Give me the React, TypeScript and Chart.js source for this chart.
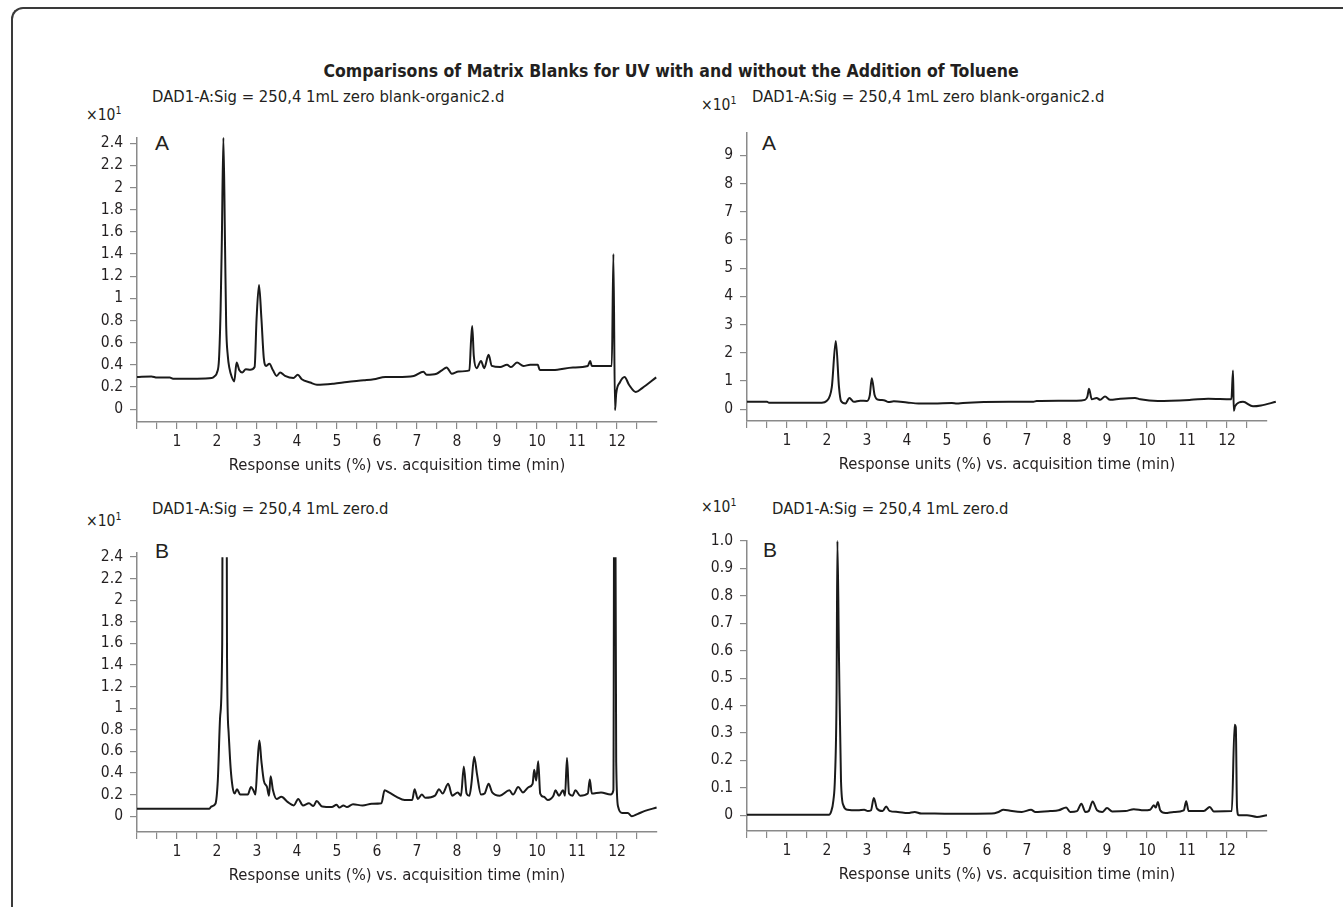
import React, { useEffect, useRef } from "react";
import { Chart, registerables } from "chart.js";

Chart.register(...registerables);

// ---------- data (time in min, response in x10 units) ----------
const timeTicks = [0, 0.5, 1, 1.5, 2, 2.5, 3, 3.5, 4, 4.5, 5, 5.5, 6, 6.5, 7, 7.5, 8, 8.5, 9, 9.5, 10, 10.5, 11, 11.5, 12, 12.5, 13];
const timeTickLabels = ["", "", "1", "", "2", "", "3", "", "4", "", "5", "", "6", "", "7", "", "8", "", "9", "", "10", "", "11", "", "12", "", ""];

const yTicksLeft = [0, 0.2, 0.4, 0.6, 0.8, 1, 1.2, 1.4, 1.6, 1.8, 2, 2.2, 2.4];
const yLabelsLeft = ["0", "0.2", "0.4", "0.6", "0.8", "1", "1.2", "1.4", "1.6", "1.8", "2", "2.2", "2.4"];
const yTicksTopRight = [0, 1, 2, 3, 4, 5, 6, 7, 8, 9];
const yLabelsTopRight = ["0", "1", "2", "3", "4", "5", "6", "7", "8", "9"];
const yTicksBottomRight = [0, 0.1, 0.2, 0.3, 0.4, 0.5, 0.6, 0.7, 0.8, 0.9, 1.0];
const yLabelsBottomRight = ["0", "0.1", "0.2", "0.3", "0.4", "0.5", "0.6", "0.7", "0.8", "0.9", "1.0"];

// Panel A (blank-organic2), left view
const traceALeft: [number, number][] = [
  [0, 0.29], [0.36, 0.295], [0.5, 0.285], [0.82, 0.285], [0.9, 0.275], [1.5, 0.275], [1.87, 0.28], [1.95, 0.3],
  [2.0, 0.33], [2.05, 0.45], [2.09, 0.9], [2.12, 1.5], [2.16, 2.45], [2.2, 1.5], [2.23, 0.75], [2.27, 0.48],
  [2.31, 0.37], [2.37, 0.29], [2.43, 0.25], [2.49, 0.42], [2.56, 0.35], [2.63, 0.33], [2.72, 0.36], [2.83, 0.355],
  [2.94, 0.38], [2.99, 0.82], [3.05, 1.12], [3.11, 0.82], [3.17, 0.46], [3.23, 0.39], [3.31, 0.41], [3.4, 0.35],
  [3.49, 0.3], [3.58, 0.33], [3.7, 0.3], [3.91, 0.28], [4.02, 0.31], [4.12, 0.27], [4.33, 0.24], [4.5, 0.22],
  [4.92, 0.23], [5.25, 0.245], [5.67, 0.26], [5.92, 0.27], [6.21, 0.29], [6.5, 0.29], [6.92, 0.3], [7.16, 0.338],
  [7.24, 0.31], [7.49, 0.32], [7.62, 0.35], [7.74, 0.376], [7.87, 0.32], [8.04, 0.34], [8.31, 0.35], [8.35, 0.61],
  [8.38, 0.75], [8.42, 0.48], [8.49, 0.37], [8.6, 0.435], [8.68, 0.37], [8.79, 0.49], [8.87, 0.39], [9.08, 0.38],
  [9.25, 0.4], [9.35, 0.38], [9.5, 0.42], [9.66, 0.39], [9.83, 0.4], [10.02, 0.4], [10.07, 0.353], [10.4, 0.353],
  [10.9, 0.376], [11.27, 0.39], [11.33, 0.435], [11.37, 0.39], [11.87, 0.39], [11.91, 1.4], [11.95, -0.01],
  [11.98, 0.14], [12.07, 0.24], [12.19, 0.29], [12.3, 0.22], [12.47, 0.154], [12.63, 0.19], [12.98, 0.287],
];

// Panel A (blank-organic2), right view (full scale)
const traceARight: [number, number][] = [
  [0, 0.26], [0.5, 0.26], [0.55, 0.23], [1.87, 0.23], [1.99, 0.29], [2.12, 0.78], [2.22, 2.42], [2.3, 0.78],
  [2.35, 0.29], [2.46, 0.2], [2.56, 0.4], [2.67, 0.26], [2.83, 0.3], [3.0, 0.29], [3.07, 0.5], [3.12, 1.1],
  [3.19, 0.5], [3.29, 0.33], [3.42, 0.32], [3.54, 0.25], [3.67, 0.28], [4.0, 0.24], [4.29, 0.2], [4.67, 0.2],
  [5.12, 0.22], [5.25, 0.2], [5.4, 0.22], [6.54, 0.26], [7.16, 0.26], [7.24, 0.29], [7.78, 0.3], [8.24, 0.3],
  [8.45, 0.33], [8.51, 0.45], [8.55, 0.72], [8.62, 0.35], [8.74, 0.4], [8.83, 0.33], [8.95, 0.45], [9.08, 0.33],
  [9.33, 0.37], [9.7, 0.4], [9.83, 0.35], [10.27, 0.29], [11.1, 0.33], [11.53, 0.37], [12.11, 0.35], [12.15, 1.37],
  [12.17, -0.06], [12.2, 0.1], [12.4, 0.26], [12.65, 0.1], [12.85, 0.13], [13.22, 0.26],
];

// Panel B (zero), left view (off-scale peaks estimated above 2.4)
const traceBLeft: [number, number][] = [
  [0, 0.07], [1.81, 0.07], [1.86, 0.09], [1.96, 0.115], [2.02, 0.33], [2.08, 0.93], [2.13, 1.6], [2.15, 5.0],
  [2.23, 5.0], [2.25, 1.5], [2.29, 0.78], [2.34, 0.45], [2.39, 0.27], [2.44, 0.21], [2.5, 0.25], [2.58, 0.2],
  [2.77, 0.2], [2.85, 0.27], [2.91, 0.24], [2.96, 0.2], [3.01, 0.48], [3.06, 0.7], [3.11, 0.51], [3.17, 0.33],
  [3.25, 0.27], [3.3, 0.19], [3.34, 0.37], [3.4, 0.24], [3.49, 0.16], [3.61, 0.18], [3.77, 0.13], [3.92, 0.1],
  [4.03, 0.16], [4.15, 0.1], [4.3, 0.12], [4.41, 0.094], [4.49, 0.14], [4.63, 0.09], [4.87, 0.085], [4.99, 0.106],
  [5.06, 0.08], [5.16, 0.1], [5.25, 0.085], [5.4, 0.11], [5.64, 0.1], [5.87, 0.115], [6.11, 0.12], [6.19, 0.24],
  [6.3, 0.22], [6.49, 0.18], [6.69, 0.15], [6.88, 0.15], [6.94, 0.25], [7.02, 0.16], [7.12, 0.2], [7.21, 0.17],
  [7.45, 0.19], [7.55, 0.25], [7.64, 0.21], [7.78, 0.3], [7.88, 0.19], [8.02, 0.22], [8.1, 0.19], [8.17, 0.46],
  [8.24, 0.21], [8.31, 0.19], [8.36, 0.3], [8.43, 0.55], [8.5, 0.39], [8.6, 0.2], [8.69, 0.21], [8.79, 0.3],
  [8.88, 0.22], [9.07, 0.19], [9.31, 0.24], [9.4, 0.2], [9.53, 0.27], [9.65, 0.22], [9.79, 0.27], [9.89, 0.3],
  [9.93, 0.43], [9.98, 0.33], [10.03, 0.51], [10.08, 0.21], [10.17, 0.18], [10.27, 0.15], [10.41, 0.19],
  [10.46, 0.24], [10.55, 0.19], [10.65, 0.24], [10.7, 0.19], [10.75, 0.54], [10.8, 0.21], [10.89, 0.19],
  [10.96, 0.24], [11.08, 0.19], [11.27, 0.21], [11.32, 0.34], [11.37, 0.21], [11.6, 0.22], [11.84, 0.2],
  [11.91, 0.24], [11.94, 5.0], [11.98, 0.5], [12.03, 0.085], [12.13, 0.03], [12.27, 0.03], [12.37, 0.0],
  [12.51, 0.02], [12.7, 0.05], [12.99, 0.08],
];

// Panel B (zero), right view
const traceBRight: [number, number][] = [
  [0, 0.002], [2.05, 0.002], [2.1, 0.012], [2.16, 0.054], [2.2, 0.14], [2.24, 0.45], [2.26, 1.0], [2.3, 0.57],
  [2.35, 0.126], [2.41, 0.036], [2.51, 0.02], [2.77, 0.018], [2.93, 0.02], [3.02, 0.015], [3.1, 0.018],
  [3.17, 0.063], [3.25, 0.024], [3.39, 0.015], [3.48, 0.032], [3.56, 0.016], [3.77, 0.012], [4.02, 0.008],
  [4.19, 0.012], [4.36, 0.006], [4.69, 0.006], [5.2, 0.005], [6.12, 0.006], [6.29, 0.012], [6.41, 0.02],
  [6.58, 0.016], [6.87, 0.012], [7.1, 0.02], [7.21, 0.012], [7.58, 0.015], [7.79, 0.018], [7.98, 0.028],
  [8.08, 0.012], [8.25, 0.015], [8.36, 0.042], [8.46, 0.012], [8.54, 0.015], [8.64, 0.05], [8.75, 0.018],
  [8.88, 0.012], [9.0, 0.026], [9.13, 0.014], [9.46, 0.015], [9.67, 0.022], [9.92, 0.018], [10.08, 0.02],
  [10.17, 0.036], [10.22, 0.028], [10.27, 0.048], [10.33, 0.018], [10.46, 0.008], [10.67, 0.012], [10.92, 0.018],
  [10.98, 0.051], [11.04, 0.015], [11.25, 0.015], [11.42, 0.015], [11.57, 0.03], [11.67, 0.014], [12.12, 0.015],
  [12.19, 0.33], [12.22, 0.32], [12.25, 0.03], [12.29, 0.0], [12.5, 0.0], [12.75, -0.006], [13.0, 0.0], [13.29, 0.004],
];

// ---------- style ----------
const FONT = "'DejaVu Sans Condensed', 'Liberation Sans Narrow', 'Arial Narrow', sans-serif";
const TEXT = "#231f20";
const AXIS = "#8a8a8a";
const TRACE = "#1a1a1a";
const Y_W = 80;
const PAD_TOP = 12;
const PAD_RIGHT = 30;
const X_H = 56;

type Panel = {
  key: string;
  area: { left: number; right: number; top: number; bottom: number };
  yMin: number;
  yMax: number;
  yTicks: number[];
  yLabels: string[];
  trace: [number, number][];
  clipTop: number;
};

const panels: Panel[] = [
  { key: "tl", area: { left: 137, right: 657, top: 133, bottom: 422 }, yMin: -0.116, yMax: 2.453, yTicks: yTicksLeft, yLabels: yLabelsLeft, trace: traceALeft, clipTop: 4 },
  { key: "tr", area: { left: 747, right: 1267, top: 128, bottom: 421 }, yMin: -0.42, yMax: 9.82, yTicks: yTicksTopRight, yLabels: yLabelsTopRight, trace: traceARight, clipTop: 4 },
  { key: "bl", area: { left: 137, right: 657, top: 548, bottom: 832 }, yMin: -0.146, yMax: 2.443, yTicks: yTicksLeft, yLabels: yLabelsLeft, trace: traceBLeft, clipTop: -5 },
  { key: "br", area: { left: 747, right: 1267, top: 536, bottom: 831 }, yMin: -0.0575, yMax: 1.0025, yTicks: yTicksBottomRight, yLabels: yLabelsBottomRight, trace: traceBRight, clipTop: 4 },
];

function ChartPanel({ p }: { p: Panel }) {
  const ref = useRef<HTMLCanvasElement | null>(null);
  const width = Y_W + (p.area.right - p.area.left) + PAD_RIGHT;
  const height = PAD_TOP + (p.area.bottom - p.area.top) + X_H;
  useEffect(() => {
    if (!ref.current) return;
    const chart = new Chart(ref.current, {
      type: "line",
      data: {
        datasets: [
          {
            data: p.trace.map(([t, v]) => ({ x: t, y: v })),
            borderColor: TRACE,
            borderWidth: 2,
            pointRadius: 0,
            cubicInterpolationMode: "monotone",
            clip: { left: 2, right: 20, top: p.clipTop, bottom: 10 } as any,
          },
        ],
      },
      options: {
        animation: false,
        responsive: false,
        maintainAspectRatio: false,
        devicePixelRatio: 1,
        layout: { padding: { top: PAD_TOP, right: PAD_RIGHT, left: 0, bottom: 0 } },
        plugins: { legend: { display: false }, tooltip: { enabled: false }, title: { display: false } },
        scales: {
          x: {
            type: "linear",
            min: 0,
            max: 13,
            afterBuildTicks: (s: any) => {
              s.ticks = timeTicks.map((v) => ({ value: v }));
            },
            afterFit: (s: any) => {
              s.height = X_H;
            },
            ticks: {
              autoSkip: false,
              maxRotation: 0,
              minRotation: 0,
              padding: 4,
              color: TEXT,
              font: { family: FONT, size: 15.5 },
              callback: (_v: any, i: number) => timeTickLabels[i],
            },
            grid: {
              drawOnChartArea: false,
              drawTicks: true,
              tickLength: 7,
              color: AXIS,
              lineWidth: 1.2,
              tickColor: (ctx: any) => (ctx.tick && ctx.tick.value === 13 ? "rgba(0,0,0,0)" : AXIS),
            },
            border: { display: true, color: AXIS, width: 1.5 },
            title: {
              display: true,
              text: "Response units (%) vs. acquisition time (min)",
              color: TEXT,
              font: { family: FONT, size: 16.5 },
              padding: { top: 4, bottom: 2 },
            },
          },
          y: {
            type: "linear",
            min: p.yMin,
            max: p.yMax,
            afterBuildTicks: (s: any) => {
              s.ticks = p.yTicks.map((v) => ({ value: v }));
            },
            afterFit: (s: any) => {
              s.width = Y_W;
            },
            ticks: {
              autoSkip: false,
              padding: 7,
              color: TEXT,
              font: { family: FONT, size: 15.5 },
              callback: (_v: any, i: number) => p.yLabels[i],
            },
            grid: { drawOnChartArea: false, drawTicks: true, tickLength: 7, color: AXIS, lineWidth: 1.2 },
            border: { display: true, color: AXIS, width: 1.5 },
          },
        },
      } as any,
    });
    return () => chart.destroy();
  }, [p]);
  return (
    <canvas
      ref={ref}
      width={width}
      height={height}
      style={{
        position: "absolute",
        left: p.area.left - Y_W,
        top: p.area.top - PAD_TOP,
        width,
        height,
        display: "block",
      }}
    />
  );
}

function Label({ x, y, size, children, bold, family, center }: any) {
  return (
    <div
      style={{
        position: "absolute",
        left: x,
        top: y,
        transform: center ? "translate(-50%, -50%)" : "translateY(-50%)",
        fontSize: size,
        lineHeight: `${size}px`,
        fontFamily: family || FONT,
        fontWeight: bold ? "bold" : "normal",
        color: TEXT,
        whiteSpace: "nowrap",
      }}
    >
      {children}
    </div>
  );
}

const subtitleA = "DAD1-A:Sig = 250,4 1mL zero blank-organic2.d";
const subtitleB = "DAD1-A:Sig = 250,4 1mL zero.d";
const mainTitle = "Comparisons of Matrix Blanks for UV with and without the Addition of Toluene";

function Multiplier({ x, y }: { x: number; y: number }) {
  return (
    <Label x={x} y={y} size={15.5}>
      ×10<sup style={{ fontSize: 10.5, verticalAlign: "top", lineHeight: "10px", position: "relative", top: -3 }}>1</sup>
    </Label>
  );
}

export default function App() {
  return (
    <div
      style={{
        position: "absolute",
        left: 0,
        top: 0,
        width: 1343,
        height: 907,
        overflow: "hidden",
        background: "#ffffff",
      }}
    >
      <div
        style={{
          position: "absolute",
          left: 11,
          top: 7,
          width: 1400,
          height: 1000,
          borderTop: "2px solid #3a3a3a",
          borderLeft: "2px solid #3a3a3a",
          borderTopLeftRadius: 12,
        }}
      />
      <Label x={671} y={72} size={17.5} bold center>
        {mainTitle}
      </Label>
      <Label x={152} y={97} size={16.5}>{subtitleA}</Label>
      <Label x={752} y={97} size={16.5}>{subtitleA}</Label>
      <Label x={152} y={509} size={16.5}>{subtitleB}</Label>
      <Label x={772} y={509} size={16.5}>{subtitleB}</Label>
      <Multiplier x={86} y={116} />
      <Multiplier x={701} y={106} />
      <Multiplier x={86} y={522} />
      <Multiplier x={701} y={508} />
      <Label x={155} y={142} size={21} family="'Liberation Sans', Arial, sans-serif">A</Label>
      <Label x={762} y={142} size={21} family="'Liberation Sans', Arial, sans-serif">A</Label>
      <Label x={155} y={550} size={21} family="'Liberation Sans', Arial, sans-serif">B</Label>
      <Label x={763} y={549} size={21} family="'Liberation Sans', Arial, sans-serif">B</Label>
      {panels.map((p) => (
        <ChartPanel key={p.key} p={p} />
      ))}
    </div>
  );
}
